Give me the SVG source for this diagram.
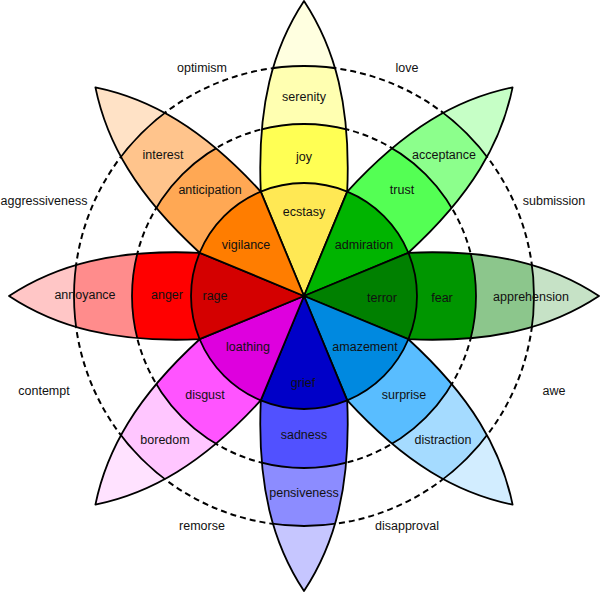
<svg xmlns="http://www.w3.org/2000/svg" width="600" height="592" viewBox="0 0 600 592">
<style>
.ln{stroke:#000;stroke-width:1.8;stroke-linejoin:round}
.ol{fill:none;stroke:#000;stroke-width:1.8;stroke-linejoin:round}
.nf{stroke:none}
.dash{fill:none;stroke:#000;stroke-width:2;stroke-dasharray:6,4}
text{font-family:"Liberation Sans",Arial,sans-serif;font-size:12.5px;fill:#111;text-anchor:middle}
</style>
<defs>
<path id="petal" d="M-43.2,-104.4 C-47,-190 -31,-248 0,-295 C31,-248 47,-190 43.2,-104.4 Z"/>
<clipPath id="pc"><use href="#petal"/></clipPath>
<path id="sector" d="M0,0 L-43.2,-104.4 A113,113 0 0 1 43.2,-104.4 Z"/>
</defs>
<rect width="600" height="592" fill="#fff"/>
<g id="guides">
<circle class="dash" cx="304" cy="296" r="172"/>
<circle class="dash" cx="304" cy="296" r="230"/>
</g>
<g id="petal-joy">
<g transform="translate(304,296) rotate(0)">
<use href="#petal" class="nf" fill="#ffffe0"/>
<circle r="230" class="ln" fill="#ffffb1" clip-path="url(#pc)"/>
<circle r="172" class="ln" fill="#ffff54" clip-path="url(#pc)"/>
<use href="#petal" class="ol"/>
</g>
<text x="304" y="101">serenity</text>
<text x="304" y="161">joy</text>
</g>
<g id="petal-trust">
<g transform="translate(304,296) rotate(45)">
<use href="#petal" class="nf" fill="#c6ffc6"/>
<circle r="230" class="ln" fill="#8cff8c" clip-path="url(#pc)"/>
<circle r="172" class="ln" fill="#54ff54" clip-path="url(#pc)"/>
<use href="#petal" class="ol"/>
</g>
<text x="444" y="159">acceptance</text>
<text x="402" y="194">trust</text>
</g>
<g id="petal-fear">
<g transform="translate(304,296) rotate(90)">
<use href="#petal" class="nf" fill="#c6e2c6"/>
<circle r="230" class="ln" fill="#8cc68c" clip-path="url(#pc)"/>
<circle r="172" class="ln" fill="#009600" clip-path="url(#pc)"/>
<use href="#petal" class="ol"/>
</g>
<text x="531" y="301">apprehension</text>
<text x="442" y="302">fear</text>
</g>
<g id="petal-surprise">
<g transform="translate(304,296) rotate(135)">
<use href="#petal" class="nf" fill="#d2edff"/>
<circle r="230" class="ln" fill="#a5dbff" clip-path="url(#pc)"/>
<circle r="172" class="ln" fill="#59bdff" clip-path="url(#pc)"/>
<use href="#petal" class="ol"/>
</g>
<text x="443" y="444">distraction</text>
<text x="404" y="399">surprise</text>
</g>
<g id="petal-sadness">
<g transform="translate(304,296) rotate(180)">
<use href="#petal" class="nf" fill="#c6c6ff"/>
<circle r="230" class="ln" fill="#8c8cff" clip-path="url(#pc)"/>
<circle r="172" class="ln" fill="#5151ff" clip-path="url(#pc)"/>
<use href="#petal" class="ol"/>
</g>
<text x="304" y="497">pensiveness</text>
<text x="304" y="439">sadness</text>
</g>
<g id="petal-disgust">
<g transform="translate(304,296) rotate(225)">
<use href="#petal" class="nf" fill="#ffe2ff"/>
<circle r="230" class="ln" fill="#ffc6ff" clip-path="url(#pc)"/>
<circle r="172" class="ln" fill="#ff54ff" clip-path="url(#pc)"/>
<use href="#petal" class="ol"/>
</g>
<text x="165" y="444">boredom</text>
<text x="205" y="399">disgust</text>
</g>
<g id="petal-anger">
<g transform="translate(304,296) rotate(270)">
<use href="#petal" class="nf" fill="#ffc6c6"/>
<circle r="230" class="ln" fill="#ff8c8c" clip-path="url(#pc)"/>
<circle r="172" class="ln" fill="#ff0000" clip-path="url(#pc)"/>
<use href="#petal" class="ol"/>
</g>
<text x="85" y="299">annoyance</text>
<text x="167" y="299">anger</text>
</g>
<g id="petal-anticipation">
<g transform="translate(304,296) rotate(315)">
<use href="#petal" class="nf" fill="#ffe2c6"/>
<circle r="230" class="ln" fill="#ffc48c" clip-path="url(#pc)"/>
<circle r="172" class="ln" fill="#ffa854" clip-path="url(#pc)"/>
<use href="#petal" class="ol"/>
</g>
<text x="163" y="159">interest</text>
<text x="210" y="194">anticipation</text>
</g>
<g id="core-ecstasy"><use href="#sector" class="ln" fill="#ffe854" transform="translate(304,296) rotate(0)"/><text x="304" y="216">ecstasy</text></g>
<g id="core-admiration"><use href="#sector" class="ln" fill="#00b400" transform="translate(304,296) rotate(45)"/><text x="364" y="249">admiration</text></g>
<g id="core-terror"><use href="#sector" class="ln" fill="#008000" transform="translate(304,296) rotate(90)"/><text x="382" y="302">terror</text></g>
<g id="core-amazement"><use href="#sector" class="ln" fill="#0089e0" transform="translate(304,296) rotate(135)"/><text x="365" y="351">amazement</text></g>
<g id="core-grief"><use href="#sector" class="ln" fill="#0000c8" transform="translate(304,296) rotate(180)"/><text x="303" y="387">grief</text></g>
<g id="core-loathing"><use href="#sector" class="ln" fill="#de00de" transform="translate(304,296) rotate(225)"/><text x="248" y="351">loathing</text></g>
<g id="core-rage"><use href="#sector" class="ln" fill="#d40000" transform="translate(304,296) rotate(270)"/><text x="215" y="300">rage</text></g>
<g id="core-vigilance"><use href="#sector" class="ln" fill="#ff7d00" transform="translate(304,296) rotate(315)"/><text x="246" y="249">vigilance</text></g>
<g id="dyads">
<text x="202" y="72">optimism</text>
<text x="407" y="72">love</text>
<text x="44" y="205">aggressiveness</text>
<text x="554" y="205">submission</text>
<text x="44" y="395">contempt</text>
<text x="554" y="395">awe</text>
<text x="202" y="530">remorse</text>
<text x="407" y="530">disapproval</text>
</g>
</svg>
